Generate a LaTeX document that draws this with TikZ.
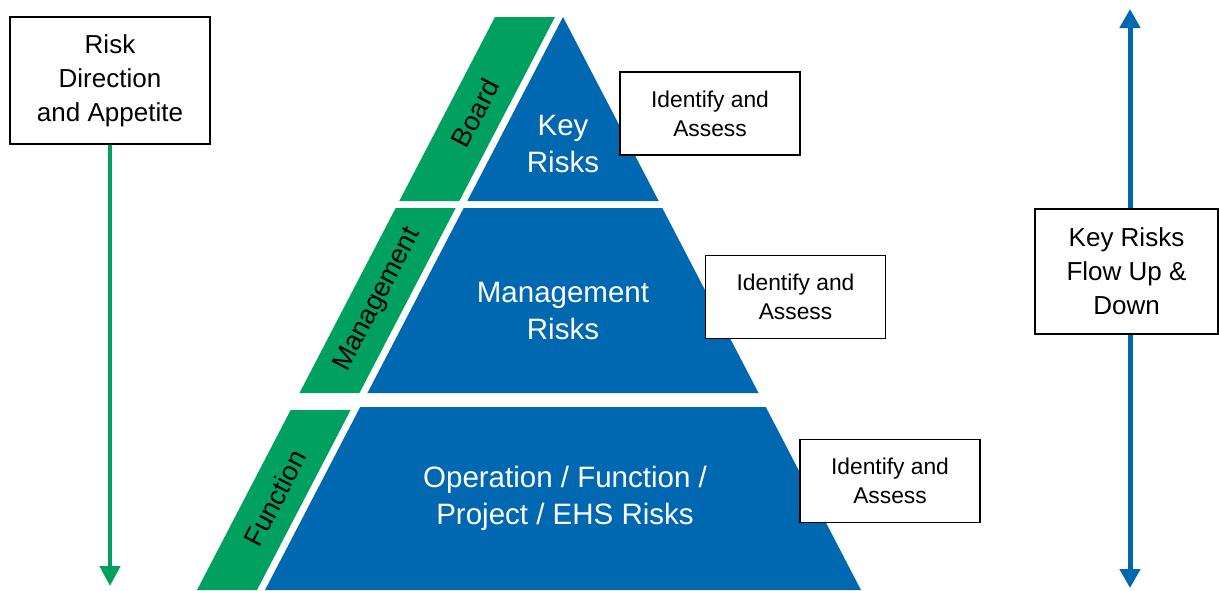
\documentclass[tikz,border=0pt]{standalone}
\usepackage{fontspec}
\setmainfont{Liberation Sans}
\usetikzlibrary{arrows.meta}
\definecolor{pyrblue}{RGB}{0,103,177}
\definecolor{pyrgreen}{RGB}{0,161,96}
\begin{document}
\begin{tikzpicture}[x=1pt,y=-1pt,
    riskbox/.style={draw,line width=1.6pt,fill=white,align=center,inner sep=0pt,
      font=\fontsize{26}{34}\selectfont},
    assessbox/.style={riskbox,minimum width=180,minimum height=83,
      font=\fontsize{22.8}{29}\selectfont},
    levellabel/.style={text=white,align=center,font=\fontsize{29.5}{37.5}\selectfont},
    striplabel/.style={text=black,rotate=62.5,font=\fontsize{27}{32}\selectfont}]
  \useasboundingbox (0,0) rectangle (1219,590);

  % pyramid levels and green strips
  \foreach \ya/\yb/\ga in {17/201/17, 208/393/208, 407/590/410}{
    \fill[pyrblue] ({563-0.52*(\ya-17)},\ya) -- ({563+0.52*(\ya-17)},\ya)
      -- ({563+0.52*(\yb-17)},\yb) -- ({563-0.52*(\yb-17)},\yb) -- cycle;
    \fill[pyrgreen] ({555-0.52*(\ga-17)},\ga) -- ({495-0.52*(\ga-17)},\ga)
      -- ({495-0.52*(\yb-17)},\yb) -- ({555-0.52*(\yb-17)},\yb) -- cycle;
  }

  \node[levellabel](KeyRisks)  at(563,144) {Key\\Risks};
  \node[levellabel](MgmtRisks) at(563,311) {Management\\Risks};
  \node[levellabel](FuncRisks) at(565,498.5) {Operation / Function /\\Project / EHS Risks};

  \node[striplabel](Board)      at(475,113) {Board};
  \node[striplabel](Management) at(378,300) {Management};
  \node[striplabel](Function)   at(275,498) {Function};

  \node[assessbox](Assess1) at(710,113.5) {Identify and\\Assess};
  \node[assessbox](Assess2) at(795.5,297) {Identify and\\Assess};
  \node[assessbox](Assess3) at(890,481)   {Identify and\\Assess};

  \node[riskbox,minimum width=200,minimum height=127](Appetite) at(110,80.5)
    {Risk\\Direction\\and Appetite};
  \node[riskbox,minimum width=183,minimum height=125](Flow) at(1126.5,271.5)
    {Key Risks\\Flow Up \&\\Down};

  % arrows
  \coordinate (AppetiteEnd) at(110,586);
  \coordinate (FlowTop) at(1130,9);
  \coordinate (FlowBot) at(1130,588);
  \draw[pyrgreen,line width=4.5pt,-{Triangle[width=20pt,length=20pt]}]
    (Appetite.south) -- (AppetiteEnd);
  \draw[pyrblue,line width=5pt,-{Triangle[width=20pt,length=19pt]}]
    (Flow.north -| FlowTop) -- (FlowTop);
  \draw[pyrblue,line width=5pt,-{Triangle[width=20pt,length=19pt]}]
    (Flow.south -| FlowBot) -- (FlowBot);
\end{tikzpicture}
\end{document}
